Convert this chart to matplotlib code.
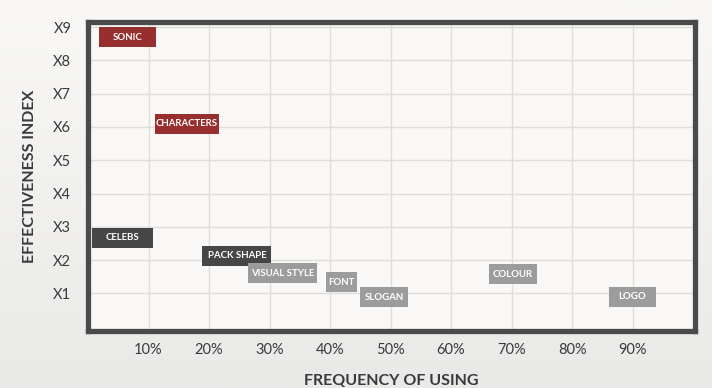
import numpy as np
import matplotlib
matplotlib.use("Agg")
import matplotlib.pyplot as plt
from matplotlib.patches import Rectangle

# data
labels = ["SONIC", "CHARACTERS", "CELEBS", "PACK SHAPE", "VISUAL STYLE",
          "FONT", "SLOGAN", "COLOUR", "LOGO"]
frequency = [6.6, 16.3, 5.7, 24.6, 32.2, 41.9, 48.9, 70.2, 90.0]
effectiveness = [8.7, 6.1, 2.67, 2.13, 1.61, 1.34, 0.89, 1.58, 0.9]
group = ["red", "red", "dark", "dark", "light", "light", "light", "light", "light"]

x_ticks = [10, 20, 30, 40, 50, 60, 70, 80, 90]
x_ticklabels = ["10%", "20%", "30%", "40%", "50%", "60%", "70%", "80%", "90%"]
y_ticks = [1, 2, 3, 4, 5, 6, 7, 8, 9]
y_ticklabels = ["X1", "X2", "X3", "X4", "X5", "X6", "X7", "X8", "X9"]

# box widths (in % units) and height, layout only
box_w = [9.4, 10.6, 10.0, 11.4, 11.4, 5.2, 7.9, 7.9, 7.9]
box_h = 0.6
colors = {"red": "#962f2d", "dark": "#464646", "light": "#9c9c9c"}

plt.rcParams["font.family"] = ["Lato", "DejaVu Sans"]

fig = plt.figure(figsize=(7.12, 3.88), dpi=100)

# soft background gradient
bg = fig.add_axes([0, 0, 1, 1], zorder=-10)
grad = np.linspace(0, 1, 200).reshape(-1, 1)
bg.imshow(grad, aspect="auto", cmap=matplotlib.colors.LinearSegmentedColormap.from_list(
    "bg", ["#f9f8f6", "#e9e9e8"]), extent=[0, 1, 0, 1], origin="upper")
bg.axis("off")

ax = fig.add_axes([0.1236, 0.147, 0.976 - 0.1236, 0.943 - 0.147])
ax.set_facecolor("#f9f8f6")
ax.set_xlim(0, 100.3)
ax.set_ylim(-0.13, 9.15)

ax.set_xticks(x_ticks)
ax.set_xticklabels(x_ticklabels)
ax.set_yticks(y_ticks)
ax.set_yticklabels(y_ticklabels)
ax.tick_params(length=0, labelsize=10.5, colors="#3a3a3a")
ax.tick_params(axis="x", pad=9)
ax.tick_params(axis="y", pad=12)
ax.grid(True, color="#e0dedb", lw=1)
ax.set_axisbelow(True)

for s in ax.spines.values():
    s.set_color("#4a4a4a")
    s.set_linewidth(3.8)

for lab, fx, ey, g, w in zip(labels, frequency, effectiveness, group, box_w):
    ax.add_patch(Rectangle((fx - w / 2, ey - box_h / 2), w, box_h,
                           facecolor=colors[g], edgecolor="none", zorder=3))
    ax.text(fx, ey, lab, color="white", fontsize=6.9, fontweight="bold",
            ha="center", va="center", zorder=4)

ax.set_xlabel("FREQUENCY OF USING", fontsize=11.5, fontweight="bold",
              color="#3a3a3a", labelpad=12)
ax.set_ylabel("EFFECTIVENESS INDEX", fontsize=11.5, fontweight="bold",
              color="#3a3a3a", labelpad=12)

fig.savefig("out.png", dpi=100)
